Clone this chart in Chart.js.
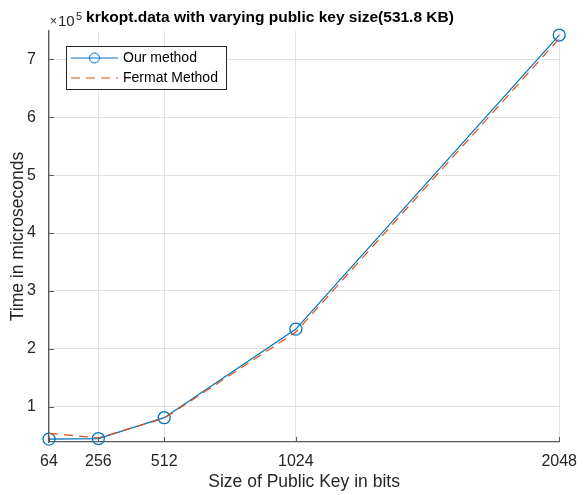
<!DOCTYPE html>
<html>
<head>
<meta charset="utf-8">
<script src="https://cdn.jsdelivr.net/npm/chart.js@4"></script>
<style>
  html, body { margin: 0; padding: 0; background: #fff; }
  #wrap { width: 587px; height: 495px; }
</style>
</head>
<body>
<div id="wrap"><canvas id="myChart" width="587" height="495"></canvas></div>
<script>
const keySizes = [64, 256, 512, 1024, 2048]
const ourMethod = [44000, 45000, 81000, 234000, 742000]
const fermatMethod = [54000, 46000, 80000, 229000, 736000]
const xTicks = [64, 256, 512, 1024, 2048]
const yTicks = [100000, 200000, 300000, 400000, 500000, 600000, 700000]

const FONT = '"Liberation Sans", Arial, sans-serif'
const BLUE = '#0072BD'
const ORANGE = '#D95319'
const AXIS = '#5a5a5a'

// title, exponent, legend box and inward tick marks (matlab look)
const extras = {
  id: 'extras',
  afterDraw(chart) {
    const ctx = chart.ctx
    const area = chart.chartArea
    const xs = chart.scales.x
    const ys = chart.scales.y
    ctx.save()

    // inward ticks
    ctx.strokeStyle = AXIS
    ctx.lineWidth = 1
    ctx.beginPath()
    xTicks.forEach(v => {
      const px = Math.round(xs.getPixelForValue(v)) + 0.5
      ctx.moveTo(px, area.bottom)
      ctx.lineTo(px, area.bottom - 5)
    })
    yTicks.forEach(v => {
      const py = Math.round(ys.getPixelForValue(v)) + 0.5
      ctx.moveTo(area.left, py)
      ctx.lineTo(area.left + 5, py)
    })
    ctx.stroke()

    // title
    ctx.fillStyle = '#000'
    ctx.font = 'bold 15.5px ' + FONT
    ctx.textAlign = 'center'
    ctx.textBaseline = 'alphabetic'
    ctx.fillText('krkopt.data with varying public key size(531.8 KB)', 270, 22)

    // exponent label
    ctx.fillStyle = '#262626'
    ctx.textAlign = 'left'
    ctx.font = '12px ' + FONT
    ctx.fillText('\u00d7', 50, 25)
    ctx.font = '15px ' + FONT
    ctx.fillText('10', 58, 26)
    ctx.font = '11px ' + FONT
    ctx.fillText('5', 76, 20)

    // legend
    const lx = 66, ly = 46, lw = 160, lh = 43
    ctx.fillStyle = '#fff'
    ctx.fillRect(lx, ly, lw, lh)
    ctx.strokeStyle = '#262626'
    ctx.strokeRect(lx + 0.5, ly + 0.5, lw, lh)

    ctx.lineWidth = 1
    ctx.strokeStyle = BLUE
    ctx.beginPath()
    ctx.moveTo(71, 58)
    ctx.lineTo(118, 58)
    ctx.stroke()
    ctx.beginPath()
    ctx.arc(94.5, 58, 5, 0, Math.PI * 2)
    ctx.stroke()

    ctx.strokeStyle = ORANGE
    ctx.setLineDash([9, 6])
    ctx.beginPath()
    ctx.moveTo(71, 78)
    ctx.lineTo(118, 78)
    ctx.stroke()
    ctx.setLineDash([])

    ctx.fillStyle = '#000'
    ctx.font = '14px ' + FONT
    ctx.textBaseline = 'middle'
    ctx.fillText('Our method', 123, 58)
    ctx.fillText('Fermat Method', 123, 78)

    ctx.restore()
  }
}

document.addEventListener("DOMContentLoaded", function(event) {
  const ctx = document.getElementById('myChart').getContext('2d')
  const chart = new Chart(ctx, {
    type: 'line',
    data: {
      datasets: [
        {
          label: 'Fermat Method',
          data: keySizes.map((k, i) => ({x: k, y: fermatMethod[i]})),
          borderColor: ORANGE,
          borderWidth: 1.2,
          borderDash: [9, 6],
          pointRadius: 0,
          fill: false,
          tension: 0,
          clip: false
        },
        {
          label: 'Our method',
          data: keySizes.map((k, i) => ({x: k, y: ourMethod[i]})),
          borderColor: BLUE,
          borderWidth: 1.2,
          pointStyle: 'circle',
          pointRadius: 6,
          pointBorderWidth: 1.3,
          pointBorderColor: BLUE,
          pointBackgroundColor: 'rgba(0,0,0,0)',
          fill: false,
          tension: 0,
          clip: false
        }
      ]
    },
    options: {
      responsive: false,
      animation: false,
      layout: { padding: { top: 31, right: 18, left: 0, bottom: 0 } },
      plugins: {
        legend: { display: false },
        title: { display: false },
        tooltip: { enabled: false }
      },
      scales: {
        x: {
          type: 'linear',
          min: 64,
          max: 2048,
          afterBuildTicks: scale => { scale.ticks = xTicks.map(v => ({value: v})) },
          afterFit: scale => { scale.height = 53 },
          grid: { color: '#e3e3e3', drawTicks: false },
          border: { display: true, color: AXIS, width: 1.3 },
          ticks: { color: '#262626', font: { family: FONT, size: 16 }, padding: 10, maxRotation: 0,
                   callback: v => String(v) },
          title: { display: true, text: 'Size of Public Key in bits', color: '#262626',
                   font: { family: FONT, size: 17.5 }, padding: { top: 0, bottom: 2 } }
        },
        y: {
          min: 39000,
          max: 749000,
          afterBuildTicks: scale => { scale.ticks = yTicks.map(v => ({value: v})) },
          afterFit: scale => { scale.width = 49 },
          grid: { color: '#e3e3e3', drawTicks: false },
          border: { display: true, color: AXIS, width: 1.3 },
          ticks: { color: '#262626', font: { family: FONT, size: 16 }, padding: 13,
                   callback: v => String(v / 100000) },
          title: { display: true, text: 'Time in microseconds', color: '#262626',
                   font: { family: FONT, size: 17.5 }, padding: { top: 8, bottom: 0 } }
        }
      }
    },
    plugins: [extras]
  })
})
</script>
</body>
</html>
